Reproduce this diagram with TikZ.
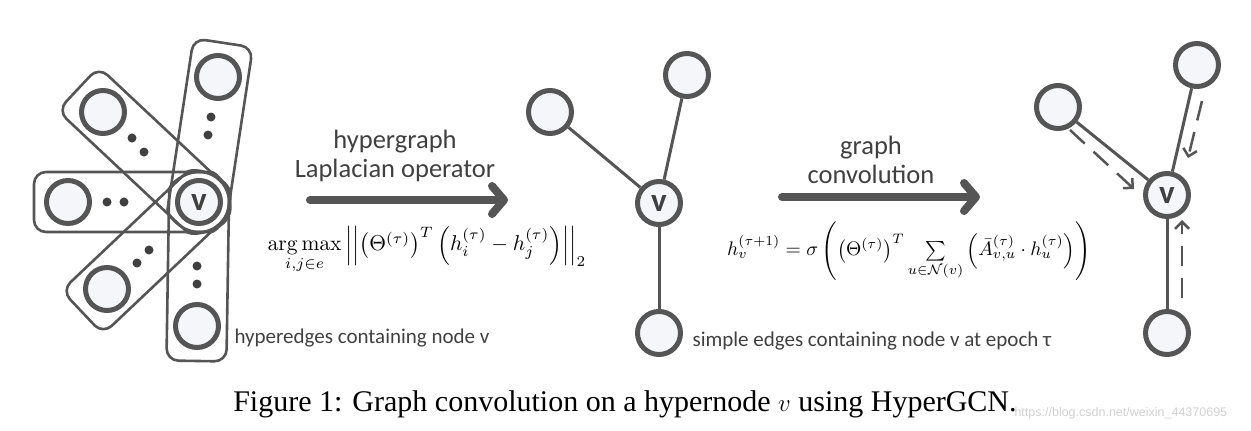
\documentclass[tikz,border=0pt]{standalone}
\usepackage{amsmath}
\usepackage{graphicx}
\usepackage[no-math]{fontspec}
\newfontfamily\calib{Carlito}
\newfontfamily\timesf{Liberation Serif}
\newfontfamily\arialf{Liberation Sans}
\usetikzlibrary{arrows.meta,calc}
\definecolor{ink}{HTML}{555555}
\definecolor{nodefill}{HTML}{F4F6FA}
\definecolor{txt}{HTML}{404040}
\tikzset{
 gnode/.style={circle, draw=ink, line width=5pt, fill=nodefill, minimum size=43pt, inner sep=0pt},
 vlabel/.style={font=\calib\bfseries\fontsize{33}{33}\selectfont, text=txt},
 gedge/.style={draw=ink, line width=3pt},
 hedge/.style={draw=ink, line width=2.6pt, rounded corners=12pt},
 hdot/.style={circle, fill=txt, minimum size=9pt, inner sep=0pt},
 bigarrow/.style={draw=ink, line width=8pt, line cap=round, -{Straight Barb[round,length=12pt,width=28pt]}},
 flowarrow/.style={draw=ink, line width=2.5pt, dash pattern=on 20pt off 12pt, -{Straight Barb[length=7pt,width=14pt]}},
 lbl/.style={font=\calib\fontsize{26.5}{29}\selectfont, text=txt, align=center},
 smalllbl/.style={font=\calib\fontsize{21}{25}\selectfont, text=txt},
 formula/.style={inner sep=0pt},
}
\begin{document}
\begin{tikzpicture}[x=1pt,y=-1pt]
\useasboundingbox (0,0) rectangle (1251,431);
% ---------- left: hypergraph ----------
\coordinate (vL) at (199,202);
\coordinate (pT) at (218,77);
\coordinate (pUL) at (103,112);
\coordinate (pL) at (68,202);
\coordinate (pLL) at (107,289);
\coordinate (pB) at (197,326);
% hyperedges
\begin{scope}[shift={(vL)}, rotate=81.36]
 \draw[hedge] (0pt,30pt) arc[start angle=90,end angle=270,radius=30pt] -- (161pt,-30pt) -- (161pt,30pt) -- cycle;
\end{scope}
\begin{scope}[shift={(vL)}, rotate=136.85]
 \draw[hedge] (0pt,30pt) arc[start angle=90,end angle=270,radius=30pt] -- (165.6pt,-30pt) -- (165.6pt,30pt) -- cycle;
\end{scope}
\begin{scope}[shift={(vL)}, rotate=180]
 \draw[hedge] (0pt,30pt) arc[start angle=90,end angle=270,radius=30pt] -- (165pt,-30pt) -- (165pt,30pt) -- cycle;
\end{scope}
\begin{scope}[shift={(vL)}, rotate=223.4]
 \draw[hedge] (0pt,30pt) arc[start angle=90,end angle=270,radius=30pt] -- (160.6pt,-30pt) -- (160.6pt,30pt) -- cycle;
\end{scope}
\begin{scope}[shift={(vL)}, rotate=269.08]
 \draw[hedge] (0pt,30pt) arc[start angle=90,end angle=270,radius=30pt] -- (159pt,-30pt) -- (159pt,30pt) -- cycle;
\end{scope}
% nodes
\node[gnode] (lv) at (vL) {};
\node[vlabel] (lvt) at (vL) {v};
\node[gnode] (lt) at (pT) {};
\node[gnode] (lul) at (pUL) {};
\node[gnode] (ll) at (pL) {};
\node[gnode] (lll) at (pLL) {};
\node[gnode] (lb) at (pB) {};
% dots
\node[hdot] (d1) at (132,138) {};
\node[hdot] (d2) at (144,152) {};
\node[hdot] (d3) at (211,117) {};
\node[hdot] (d4) at (208,135) {};
\node[hdot] (d5) at (107,202) {};
\node[hdot] (d6) at (124,202) {};
\node[hdot] (d7) at (137,263) {};
\node[hdot] (d8) at (149,250) {};
\node[hdot] (d9) at (197,266) {};
\node[hdot] (d10) at (197,284) {};
\node[smalllbl, anchor=west] (lcap) at (231,338) {hyperedges containing node v};
% ---------- first arrow ----------
\coordinate (a1s) at (310,200);
\coordinate (a1e) at (508,200);
\draw[bigarrow] (a1s) -- (a1e);
\node[lbl] (t1) at (395,156) {hypergraph\\Laplacian operator};
\node[formula] (f1) at (427,250) {\scalebox{2.15}{$\mathop{\arg\max}\limits_{i,j\in e}\left|\left|\left(\Theta^{(\tau)}\right)^T\left(h_i^{(\tau)}-h_j^{(\tau)}\right)\right|\right|_2$}};
% ---------- middle graph ----------
\node[gnode] (mv) at (659,203) {};
\node[gnode] (mt) at (687,75) {};
\node[gnode] (ml) at (550,112) {};
\node[gnode] (mb) at (659,333) {};
\draw[gedge] (mv) -- (mt);
\draw[gedge] (mv) -- (ml);
\draw[gedge] (mv) -- (mb);
\node[vlabel] (mvt) at (mv) {v};
\node[smalllbl, anchor=west] (mcap) at (689,341) {simple edges containing node v at epoch τ};
% ---------- second arrow ----------
\coordinate (a2s) at (782,197);
\coordinate (a2e) at (980,197);
\draw[bigarrow] (a2s) -- (a2e);
\node[lbl] (t2) at (871,160) {graph\\convolution};
\node[formula] (f2) at (909,251) {\scalebox{1.96}{$h_v^{(\tau+1)}=\sigma\left(\left(\Theta^{(\tau)}\right)^T\sum\limits_{u\in\mathcal{N}(v)}\left(\bar{A}_{v,u}^{(\tau)}\cdot h_u^{(\tau)}\right)\right)$}};
% ---------- right graph ----------
\node[gnode] (rv) at (1167,195) {};
\node[gnode] (rt) at (1197,65) {};
\node[gnode] (rl) at (1058,107) {};
\node[gnode] (rb) at (1167,333) {};
\draw[gedge] (rv) -- (rt);
\draw[gedge] (rv) -- (rl);
\draw[gedge] (rv) -- (rb);
\node[vlabel] (rvt) at (rv) {v};
\coordinate (e1s) at (1070,130);
\coordinate (e1e) at (1134,189);
\coordinate (e2s) at (1202,101);
\coordinate (e2e) at (1188,158);
\coordinate (e3s) at (1182,298);
\coordinate (e3e) at (1182,220);
\draw[flowarrow] (e1s) -- (e1e);
\draw[flowarrow] (e2s) -- (e2e);
\draw[flowarrow] (e3s) -- (e3e);
% ---------- caption ----------
\node[anchor=base, font=\timesf\fontsize{30}{34}\selectfont] (cap) at (625,411) {Figure 1: Graph convolution on a hypernode $v$ using HyperGCN.};
\node[anchor=base west, font=\arialf\fontsize{12.5}{15}\selectfont, text=black!18] (wm) at (1011,416) {https://blog.csdn.net/weixin\_44370695};
\end{tikzpicture}
\end{document}
